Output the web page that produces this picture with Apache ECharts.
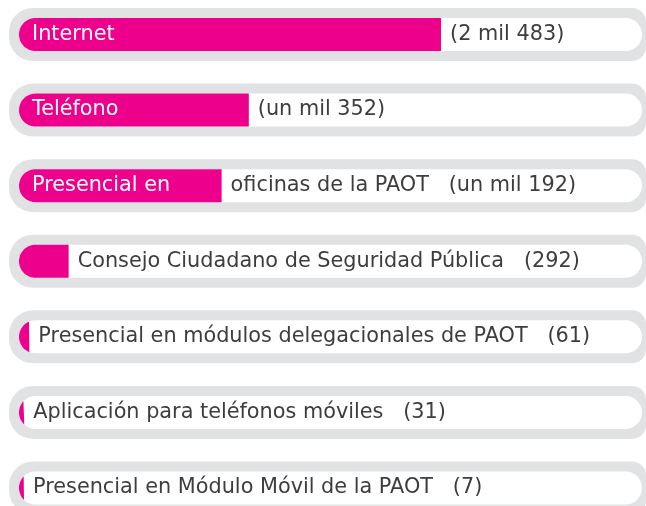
<!DOCTYPE html>
<html>
<head>
<meta charset="utf-8">
<script src="https://cdn.jsdelivr.net/npm/echarts@6/dist/echarts.min.js"></script>
<style>
  html, body { margin: 0; padding: 0; background: #ffffff; }
  #echarts { width: 646px; height: 506px; }
</style>
</head>
<body>
<div id="echarts"></div>
<script>
//categorias (canales de denuncia)
var categories = [
  'Internet',
  'Teléfono',
  'Presencial en oficinas de la PAOT',
  'Consejo Ciudadano de Seguridad Pública',
  'Presencial en módulos delegacionales de PAOT',
  'Aplicación para teléfonos móviles',
  'Presencial en Módulo Móvil de la PAOT'
];
//numero de denuncias
var values = [2483, 1352, 1192, 292, 61, 31, 7];
//texto de los valores
var valueLabels = ['(2 mil 483)', '(un mil 352)', '(un mil 192)', '(292)', '(61)', '(31)', '(7)'];
//parte del texto que va dentro de la barra
var insideText = ['Internet', 'Teléfono', 'Presencial en', '', '', '', ''];

var xMax = 3665;
var magenta = '#ec008c';
var track = '#e1e2e4';
var textColor = '#3d3d3d';
var font = '20.8px "DejaVu Sans", sans-serif';

var chart = echarts.init(document.getElementById('echarts'));

function outsideLabel(i) {
  var rest = categories[i].slice(insideText[i].length).trim();
  return rest ? rest + '   ' + valueLabels[i] : valueLabels[i];
}

function renderItem(params, api) {
  var i = params.dataIndex;
  var cat = api.value(1);
  var start = api.coord([0, cat]);
  var end = api.coord([xMax, cat]);
  var pv = api.coord([api.value(0), cat]);
  var cy = start[1];
  var x0 = start[0];
  var r = 16.5;

  //barra: rectangulo recortado por el fondo redondeado
  var w = Math.max(pv[0] - x0, 5);
  var pts = [];
  var a0 = 90;
  if (w >= r) {
    pts.push([x0 + w, cy - r]);
    pts.push([x0 + w, cy + r]);
  } else {
    a0 = Math.acos((w - r) / r) * 180 / Math.PI;
  }
  for (var a = a0; a <= 360 - a0 + 0.001; a += 5) {
    var rad = a * Math.PI / 180;
    pts.push([x0 + r + r * Math.cos(rad), cy + r * Math.sin(rad)]);
  }

  var children = [
    {
      type: 'rect',
      shape: { x: x0 - 10, y: cy - 26.5, width: end[0] + 4 - (x0 - 10), height: 53, r: [24, 14, 14, 24] },
      style: { fill: track }
    },
    {
      type: 'rect',
      shape: { x: x0, y: cy - r, width: end[0] - x0, height: 2 * r, r: r },
      style: { fill: '#ffffff' }
    },
    {
      type: 'polygon',
      shape: { points: pts },
      style: { fill: magenta }
    },
    {
      type: 'text',
      style: {
        text: outsideLabel(i), x: x0 + w + 9, y: cy,
        fill: textColor, font: font, align: 'left', verticalAlign: 'middle'
      }
    }
  ];
  if (insideText[i]) {
    children.push({
      type: 'text',
      style: {
        text: insideText[i], x: x0 + 13, y: cy,
        fill: '#ffffff', font: font, align: 'left', verticalAlign: 'middle'
      }
    });
  }
  return { type: 'group', children: children };
}

var data = [];
for (var i = 0; i < values.length; i++) {
  data.push([values[i], i]);
}

chart.setOption({
  animation: false,
  grid: { left: 19, right: 4, top: 34.5, bottom: 18 },
  xAxis: { type: 'value', min: 0, max: xMax, show: false },
  yAxis: { type: 'category', data: categories, inverse: true, boundaryGap: false, show: false },
  series: [
    {
      type: 'custom',
      renderItem: renderItem,
      encode: { x: 0, y: 1 },
      data: data,
      clip: false
    }
  ]
});
</script>
</body>
</html>
